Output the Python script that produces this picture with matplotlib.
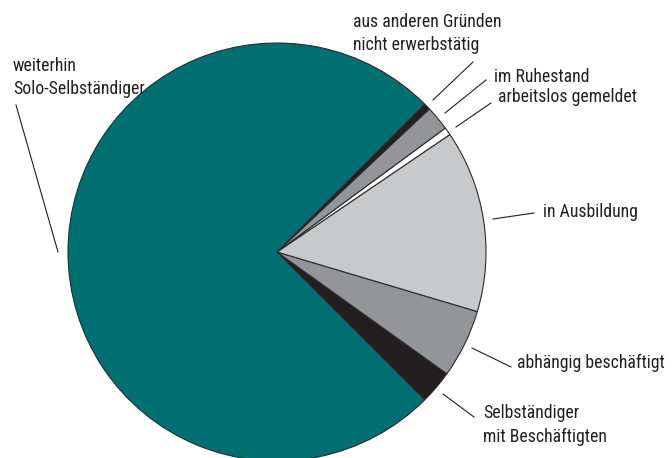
import matplotlib.pyplot as plt

# slice order: counter-clockwise starting at -45 deg
labels = [
    "Selbständiger\nmit Beschäftigten",
    "abhängig beschäftigt",
    "in Ausbildung",
    "arbeitslos gemeldet",
    "im Ruhestand",
    "aus anderen Gründen\nnicht erwerbstätig",
    "weiterhin\nSolo-Selbständiger",
]
shares = [2.6, 5.3, 14.1, 0.6, 1.9, 0.5, 75.0]
colors = ["#231f20", "#939598", "#c8c9cb", "#ffffff", "#939598", "#231f20", "#006f71"]

# label layout in image pixels (x, baseline y of first line, line start, line end)
label_pos = [
    (483, 418, (443, 394), (474, 417)),
    (517, 368, (472, 348), (511, 367)),
    (543, 217, (493, 219), (534, 213)),
    (498, 102, (456, 127), (491, 103)),
    (494, 82, (445, 113), (486, 80)),
    (353, 27, (433, 100), (473, 62)),
    (13, 71, (58, 252), (16, 105)),
]

W, H = 672, 458
LINE_GAP = 23.5


def flip(y):
    return H - y


plt.rcParams["font.family"] = ["Liberation Sans Narrow", "Roboto Condensed",
                               "Roboto", "DejaVu Sans"]

fig = plt.figure(figsize=(W / 100, H / 100), dpi=100)
ax = fig.add_axes([0, 0, 1, 1])

ax.pie(
    shares,
    colors=colors,
    startangle=-45,
    counterclock=True,
    center=(277, flip(252)),
    radius=209,
    wedgeprops=dict(edgecolor="#2b2b2b", linewidth=0.8),
    frame=True,
)
ax.set_xlim(0, W)
ax.set_ylim(0, H)
ax.axis("off")

for lab, (x, y, p0, p1) in zip(labels, label_pos):
    for i, line in enumerate(lab.split("\n")):
        ax.text(x, flip(y + i * LINE_GAP), line, fontsize=12.8,
                color="#231f20", ha="left", va="baseline")
    ax.plot([p0[0], p1[0]], [flip(p0[1]), flip(p1[1])],
            color="#231f20", linewidth=0.8)

fig.savefig("out.png", dpi=100)
